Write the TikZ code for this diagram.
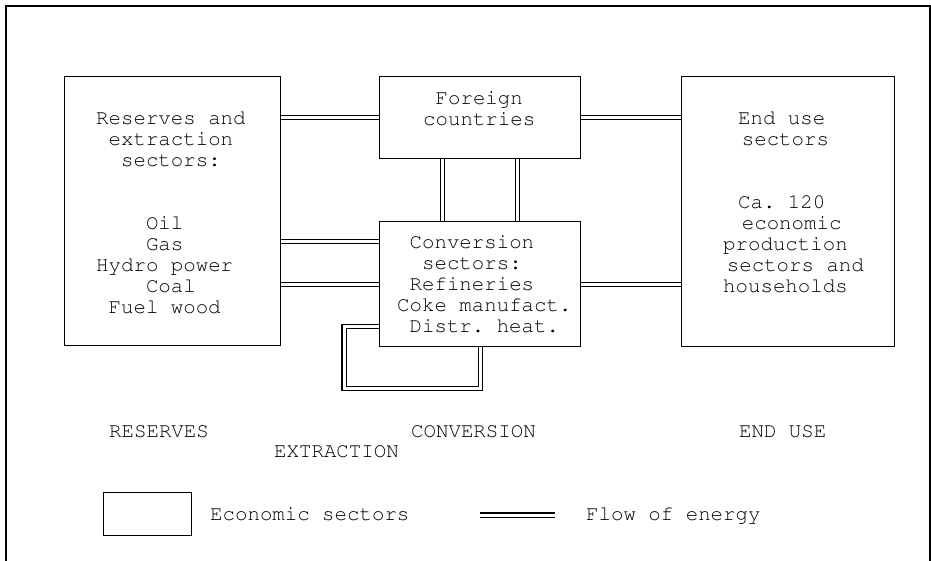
\documentclass[tikz,border=0pt]{standalone}
\usepackage[T1]{fontenc}
\usetikzlibrary{calc,backgrounds}
\newcommand\chsp[1]{\hspace*{#1\dimexpr0.6em\relax}}
\newcommand\tw{\fontfamily{pcr}\fontseries{m}\fontshape{n}\fontsize{20.75}{20.9}\selectfont\frenchspacing}
\begin{document}
\frenchspacing
\begin{tikzpicture}[x=1pt,y=-1pt,
  box/.style={draw, line width=1.2pt, fill=white, inner sep=0pt, anchor=north west},
  flow/.style={draw, double, double distance=3pt, line width=1.05pt},
  lbl/.style={anchor=base west, inner sep=0pt, font=\tw},
  frame/.style={draw, line width=1.8pt}]
\useasboundingbox (0,0) rectangle (931,561);
% frame (open at the bottom)
\draw[frame] (6,561) -- (6,6) -- (930,6) -- (930,561);
% boxes
\node[box, minimum width=216pt, minimum height=269pt] (res) at (64,76) {};
\node[box, minimum width=201pt, minimum height=82pt] (fc) at (379,76) {};
\node[box, minimum width=201pt, minimum height=125pt] (conv) at (379,221) {};
\node[box, minimum width=213pt, minimum height=270pt] (eu) at (681,76) {};
\node[box, minimum width=88pt, minimum height=43pt] (leg) at (103,492) {};
% texts in boxes
\node[lbl] (restxt) at (96,125) {\begin{tabular}[t]{@{}l@{}}Reserves and\\\chsp{1}extraction\\\chsp{2}sectors:\\ \\ \\\chsp{4}Oil\\\chsp{4}Gas\\Hydro power\\\chsp{4}Coal\\\chsp{1}Fuel wood\end{tabular}};
\node[lbl] (fctxt) at (423,105) {\begin{tabular}[t]{@{}l@{}}\chsp{1}Foreign\\countries\end{tabular}};
\node[lbl] (convtxt) at (397,249) {\begin{tabular}[t]{@{}l@{}}\chsp{1}Conversion\\\chsp{2}sectors:\\\chsp{1}Refineries\\Coke manufact.\\\chsp{1}Distr. heat.\end{tabular}};
\node[lbl] (eutxt) at (723,125) {\begin{tabular}[t]{@{}l@{}}\chsp{1.2}End use\\\chsp{1.5}sectors\\ \\ \\\chsp{1.2}Ca. 120\\\chsp{1.5}economic\\production\\\chsp{0.3}sectors and\\households\end{tabular}};
% stage labels
\node[lbl] (lres) at (109,437.7) {RESERVES};
\node[lbl] (lext) at (274,457) {EXTRACTION};
\node[lbl] (lconv) at (411,437.7) {CONVERSION};
\node[lbl] (lend) at (739,437.7) {END USE};
% legend
\node[lbl] (legtxt1) at (210,520.5) {Economic sectors};
\node[lbl] (legtxt2) at (586,520.5) {Flow of energy};
\coordinate (la) at (480,515);
\coordinate (lb) at (555,515);
% flows
\begin{scope}[on background layer]
\draw[flow] (res.east |- fc.west) -- (fc.west);
\draw[flow] (fc.east) -- (fc.east -| eu.west);
\draw[flow] ([yshift=42.5pt]conv.west -| res.east) -- ([yshift=42.5pt]conv.west);
\draw[flow] (conv.west -| res.east) -- (conv.west);
\draw[flow] (conv.east) -- (conv.east -| eu.west);
\draw[flow] ([xshift=-37.5pt]fc.south) -- ([xshift=-37.5pt]conv.north);
\draw[flow] ([xshift=37.5pt]fc.south) -- ([xshift=37.5pt]conv.north);
\draw[flow] ([yshift=-42.5pt]conv.west) -- ++(-35,0) |- ($(conv.south)+(0,41)$) -- (conv.south);
\draw[flow] (la) -- (lb);
\end{scope}
\end{tikzpicture}
\end{document}
